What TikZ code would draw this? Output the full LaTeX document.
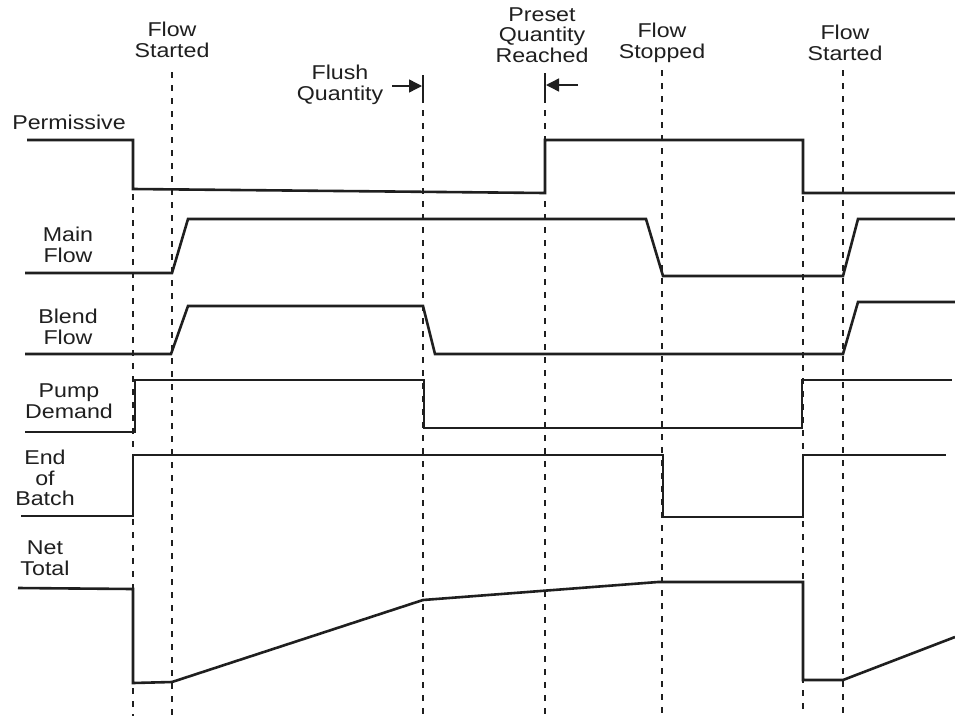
\documentclass[tikz,border=0pt]{standalone}
\usepackage{fontspec}
\setmainfont{Liberation Sans}[FakeStretch=1.16]
\usetikzlibrary{arrows.meta}
\begin{document}
\begin{tikzpicture}[x=1pt,y=-1pt,
  sig/.style={line width=2.6pt, line join=miter, draw=black!88},
  guide/.style={line width=1.3pt, dash pattern=on 6pt off 7pt, draw=black!88},
  lbl/.style={font=\fontsize{20}{20.5}\selectfont, align=center, inner sep=0pt, text=black!88},
  pointer/.style={line width=1.4pt, draw=black!88, -{Triangle[length=13pt,width=13pt]}},
  stopbar/.style={line width=1.3pt, draw=black!88}]
\useasboundingbox[fill=white] (0,0) rectangle (955,718);

% event labels
\node[lbl] (fs1) at (172,40) {Flow\\Started};
\node[lbl] (fq)  at (340,85) {Flush\\Quantity};
\node[lbl] (pq)  at (542,35) {Preset\\Quantity\\Reached};
\node[lbl] (fst) at (662,43) {Flow\\Stopped};
\node[lbl] (fs2) at (845,43) {Flow\\Started};

% signal labels
\node[lbl] (lperm)  at (69,122) {Permissive};
\node[lbl] (lmain)  at (68,245) {Main\\Flow};
\node[lbl] (lblend) at (68,327) {Blend\\Flow};
\node[lbl] (lpump)  at (69,401) {Pump\\Demand};
\node[lbl] (leob)   at (45,478) {End\\of\\Batch};
\node[lbl] (lnet)   at (45,558) {Net\\Total};

% dashed event lines
\draw[guide] (133,194) -- (133,716);
\draw[guide] (172,72) -- (172,716);
\draw[guide] (423,97) -- (423,716);
\draw[guide] (545,97) -- (545,716);
\draw[guide] (662,70) -- (662,716);
\draw[guide] (803,196) -- (803,716);
\draw[guide] (843,70) -- (843,716);

% flush quantity marker
\coordinate (fqA) at (392,86);
\coordinate (fqB) at (422,86);
\draw[stopbar] (423,75) -- (423,97);
\draw[pointer] (fqA) -- (fqB);

% preset quantity marker
\coordinate (pqA) at (578,85);
\coordinate (pqB) at (546,85);
\draw[stopbar] (545,73) -- (545,97);
\draw[pointer] (pqA) -- (pqB);

% Permissive
\draw[sig] (27,140) -- (133,140) -- (133,189) -- (545,193) -- (545,140) -- (803,140) -- (803,193) -- (955,193);
% Main Flow
\draw[sig] (25,273) -- (172,273) -- (188,219) -- (646,219) -- (663,276) -- (843,276) -- (858,219) -- (955,219);
% Blend Flow
\draw[sig] (25,354) -- (171,354) -- (188,306) -- (423,306) -- (435,354) -- (843,354) -- (858,302) -- (955,302);
% Pump Demand
\draw[sig] (25,432) -- (135,432) -- (135,380) -- (424,380) -- (424,428) -- (802,428) -- (802,380) -- (952,380);
% End of Batch
\draw[sig] (21,516) -- (133,516) -- (133,455) -- (663,455) -- (663,517) -- (803,517) -- (803,455) -- (946,455);
% Net Total
\draw[sig] (18,588) -- (133,589) -- (133,683) -- (172,682) -- (423,600) -- (658,582) -- (803,582) -- (803,680) -- (843,680) -- (955,637);
\end{tikzpicture}
\end{document}
